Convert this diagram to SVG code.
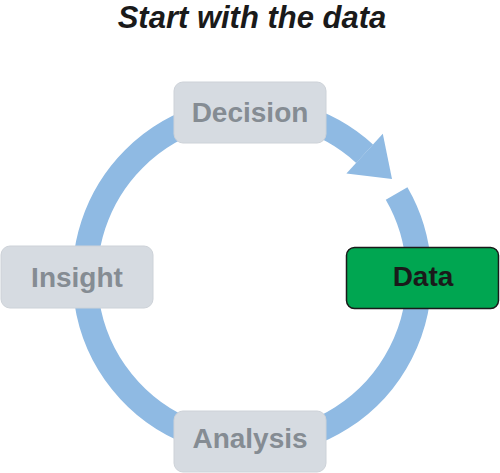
<svg xmlns="http://www.w3.org/2000/svg" width="500" height="473" viewBox="0 0 500 473">
<style>
.box{fill:#d6dbe1;stroke:#cdd2d8;stroke-width:1}
.lbl{font-family:"Liberation Sans",Arial,sans-serif;font-weight:bold;font-size:28px;fill:#858c93;text-anchor:middle}
.ring{fill:none;stroke:#8fbae3;stroke-width:25}
</style>
<rect width="500" height="473" fill="#ffffff"/>
<text x="252" y="28" font-family="Liberation Sans, Arial, sans-serif" font-weight="bold" font-style="italic" font-size="31" fill="#1a1a1a" text-anchor="middle">Start with the data</text>
<g id="connectors">
<path class="ring" d="M 396.6 193.5 A 167 167 0 1 1 364.6 153.7"/>
<polygon points="382.8,133.8 346.4,173.6 392,179" fill="#8fbae3"/>
</g>
<g id="decision">
<rect class="box" x="174" y="82" width="152" height="61" rx="9"/>
<text class="lbl" x="250" y="122">Decision</text>
</g>
<g id="insight">
<rect class="box" x="1" y="246" width="152" height="62" rx="9"/>
<text class="lbl" x="77" y="287">Insight</text>
</g>
<g id="analysis">
<rect class="box" x="174" y="411" width="152" height="61" rx="9"/>
<text class="lbl" x="250" y="448">Analysis</text>
</g>
<g id="data">
<rect x="346.5" y="247.5" width="152" height="61" rx="8" fill="#00a651" stroke="#1a1a1a" stroke-width="1.5"/>
<text class="lbl" x="423" y="286" style="fill:#1a1a1a">Data</text>
</g>
</svg>
